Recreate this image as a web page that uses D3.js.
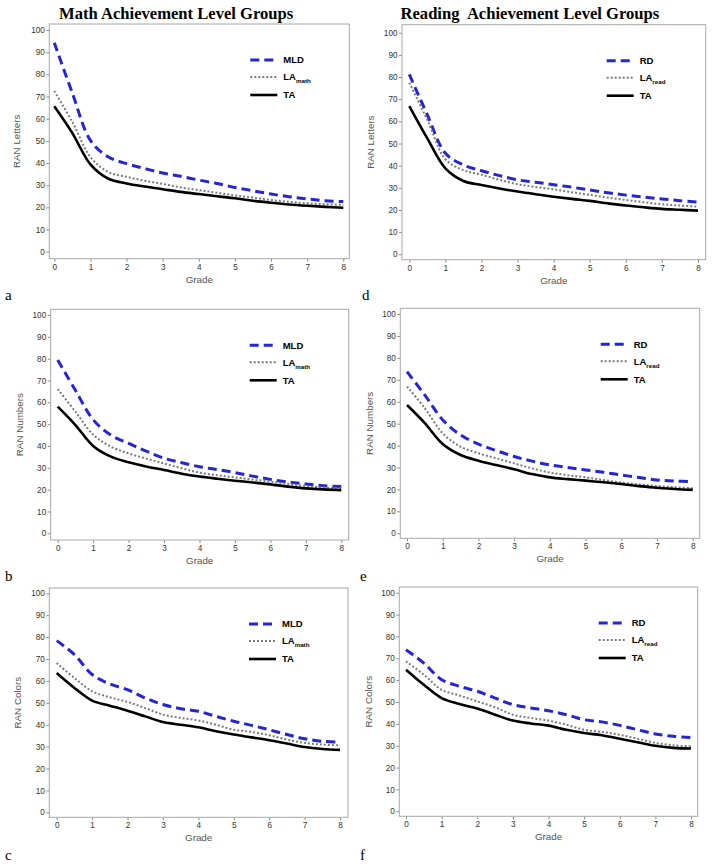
<!DOCTYPE html>
<html><head><meta charset="utf-8">
<script src="https://cdn.jsdelivr.net/npm/d3@7"></script>
<style>body{margin:0;background:#fff} svg{display:block} .t{white-space:pre}</style>
</head><body>
<svg id="c" width="714" height="868"></svg>
<script>
// ---------- DATA ----------
const grades = [0,0.5,1,1.5,2,2.5,3,3.5,4,4.5,5,5.5,6,6.5,7,7.5,8];
const xTicks = [0,1,2,3,4,5,6,7,8];
const yTicks = [0,10,20,30,40,50,60,70,80,90,100];
const columnTitles = ["Math Achievement Level Groups", "Reading  Achievement Level Groups"];
const yLabels = ["RAN Letters", "RAN Numbers", "RAN Colors"];
const panelLetters = ["a","b","c","d","e","f"];
const mathGroups = ["MLD", "LA", "TA"];
const readGroups = ["RD", "LA", "TA"];
const mathSub = "math";
const readSub = "read";

// Math – RAN Letters (a)
const mathLettersMLD = [94.3,71.5,50.2,42.7,39.7,37.5,35.5,34.0,32.3,30.8,29.0,27.5,26.0,24.8,23.8,23.0,22.6];
const mathLettersLA  = [72.5,58.5,42.7,35.9,33.8,32.0,30.6,29.0,27.8,26.6,25.4,24.4,23.3,22.5,21.8,21.4,21.1];
const mathLettersTA  = [65.6,53.5,39.4,32.9,30.8,29.4,28.2,27.0,26.0,25.0,24.1,23.0,22.1,21.3,20.7,20.2,19.8];
// Math – RAN Numbers (b)
const mathNumbersMLD = [79.4,65.5,52.0,45.0,41.2,37.6,34.4,32.3,30.5,29.2,27.8,26.2,24.7,23.5,22.6,21.8,21.4];
const mathNumbersLA  = [66.0,55.7,45.2,39.7,36.6,34.2,32.0,29.8,27.8,26.6,25.6,24.6,23.7,22.6,21.7,21.0,20.6];
const mathNumbersTA  = [58.0,49.6,40.0,35.1,32.5,30.6,29.0,27.3,26.0,25.0,24.1,23.3,22.4,21.4,20.6,20.1,19.8];
// Math – RAN Colors (c)
const mathColorsMLD = [78.4,72.0,62.9,58.6,56.0,52.2,49.2,47.3,46.1,43.8,41.6,39.7,37.7,35.5,33.6,32.4,32.1];
const mathColorsLA  = [68.2,61.3,55.3,52.5,50.4,47.6,44.6,43.1,41.9,40.0,37.7,36.7,35.2,33.2,31.7,30.9,30.6];
const mathColorsTA  = [63.6,56.8,51.0,48.7,46.4,43.8,41.2,40.0,38.8,37.0,35.5,34.2,32.9,31.4,29.8,28.9,28.5];
// Reading – RAN Letters (d)
const readLettersRD = [81.2,62.9,45.6,40.3,37.7,35.5,33.6,32.5,31.4,30.3,29.0,27.8,26.7,25.8,25.0,24.2,23.5];
const readLettersLA = [77.4,60.6,42.9,38.0,35.9,33.6,31.6,30.4,29.3,28.0,26.8,25.6,24.5,23.5,22.6,22.0,21.5];
const readLettersTA = [66.9,52.3,38.8,33.1,31.3,29.7,28.3,27.1,26.0,25.0,24.1,23.0,22.0,21.2,20.5,20.1,19.7];
// Reading – RAN Numbers (e)
const readNumbersRD = [73.7,63.0,51.7,44.8,40.7,37.7,35.0,32.9,31.2,30.0,28.9,27.8,26.6,25.4,24.3,23.8,23.6];
const readNumbersLA = [66.9,57.0,45.6,39.5,36.5,34.2,31.9,29.6,27.7,26.5,25.5,24.3,23.1,22.3,21.6,21.0,20.5];
const readNumbersTA = [58.5,50.2,40.7,35.7,33.1,31.1,29.2,27.0,25.5,24.7,24.0,23.3,22.5,21.5,20.8,20.2,19.8];
// Reading – RAN Colors (f)
const readColorsRD = [73.9,67.8,60.2,57.2,54.9,51.8,48.8,47.3,46.0,44.2,41.9,40.9,39.3,37.3,35.4,34.3,33.8];
const readColorsLA = [68.6,62.5,55.6,53.0,50.3,47.6,44.2,42.7,41.5,39.6,37.3,36.3,35.0,33.2,31.3,30.2,29.7];
const readColorsTA = [64.8,57.9,51.8,49.1,47.0,44.2,41.5,40.2,39.2,37.3,35.8,34.8,33.2,31.6,30.0,29.0,28.7];

// ---------- LAYOUT ----------
const layouts = [
  {L:49.3,T:24,R:349.3,B:258.7,y100:30,y0:251.7,x0:54.3,x8:343.3, ylx:17, lab:[5,300]},
  {L:50.7,T:309.3,R:348.7,B:540,y100:315,y0:533.3,x0:57.7,x8:341.3, ylx:20, lab:[5,581]},
  {L:49.3,T:588,R:348,B:817.3,y100:593.3,y0:812.3,x0:56.7,x8:340, ylx:18, lab:[5,860]},
  {L:402,T:24.7,R:705.7,B:259.7,y100:32.7,y0:254.3,x0:409.3,x8:698, ylx:371, lab:[362,300]},
  {L:400.3,T:308.3,R:699.7,B:538.3,y100:314,y0:533.3,x0:407,x8:692.7, ylx:370, lab:[360,581]},
  {L:399.3,T:587,R:697.7,B:816.3,y100:592.7,y0:811.3,x0:406,x8:691, ylx:369, lab:[360,860]}
];
const panels = [
  {series:[mathLettersMLD,mathLettersLA,mathLettersTA], names:mathGroups, sub:mathSub, ylab:yLabels[0]},
  {series:[mathNumbersMLD,mathNumbersLA,mathNumbersTA], names:mathGroups, sub:mathSub, ylab:yLabels[1]},
  {series:[mathColorsMLD,mathColorsLA,mathColorsTA], names:mathGroups, sub:mathSub, ylab:yLabels[2]},
  {series:[readLettersRD,readLettersLA,readLettersTA], names:readGroups, sub:readSub, ylab:yLabels[0]},
  {series:[readNumbersRD,readNumbersLA,readNumbersTA], names:readGroups, sub:readSub, ylab:yLabels[1]},
  {series:[readColorsRD,readColorsLA,readColorsTA], names:readGroups, sub:readSub, ylab:yLabels[2]}
];
const styles = [
  {stroke:"#2424d8", width:3, dash:"9,5"},
  {stroke:"#7a7a7a", width:2, dash:"2,2"},
  {stroke:"#000000", width:2.6, dash:null}
];
const SANS = "Liberation Sans, Arial, sans-serif";
const SERIF = "Liberation Serif, Times New Roman, serif";

const svg = d3.select("#c");

// column titles
svg.append("text").attr("class","t").attr("x",59).attr("y",18.5)
  .attr("font-family",SERIF).attr("font-weight","bold").attr("font-size",16.6)
  .text(columnTitles[0]);
svg.append("text").attr("class","t").attr("x",400.5).attr("y",18.5)
  .attr("font-family",SERIF).attr("font-weight","bold").attr("font-size",16.6)
  .text(columnTitles[1]);

panels.forEach((p,i)=>{
  const lo = layouts[i];
  const g = svg.append("g");
  const x = d3.scaleLinear().domain([0,8]).range([lo.x0,lo.x8]);
  const y = d3.scaleLinear().domain([0,100]).range([lo.y0,lo.y100]);

  // y axis
  const ya = g.append("g").attr("transform",`translate(${lo.L},0)`)
    .call(d3.axisLeft(y).tickValues(yTicks).tickSize(3).tickPadding(1.5));
  // x axis
  const xa = g.append("g").attr("transform",`translate(0,${lo.B})`)
    .call(d3.axisBottom(x).tickValues(xTicks).tickSize(3).tickPadding(2));
  [ya,xa].forEach(a=>{
    a.select(".domain").remove();
    a.selectAll("line").attr("stroke","#8c8c8c");
    a.selectAll("text").attr("font-family",SANS).attr("font-size",8.2).attr("fill","#333");
  });

  // frame
  g.append("rect").attr("x",lo.L).attr("y",lo.T)
    .attr("width",lo.R-lo.L).attr("height",lo.B-lo.T)
    .attr("fill","none").attr("stroke","#a8a8a8").attr("stroke-width",1);

  // clip
  const cid = "clip"+i;
  svg.append("clipPath").attr("id",cid).append("rect")
    .attr("x",lo.L).attr("y",lo.T).attr("width",lo.R-lo.L).attr("height",lo.B-lo.T);

  const line = d3.line().x((d,j)=>x(grades[j])).y(d=>y(d)).curve(d3.curveCatmullRom.alpha(0.5));
  p.series.forEach((s,k)=>{
    const st = styles[k];
    g.append("path").attr("d",line(s)).attr("clip-path",`url(#${cid})`)
      .attr("fill","none").attr("stroke",st.stroke).attr("stroke-width",st.width)
      .attr("stroke-dasharray",st.dash).attr("stroke-linejoin","round");
  });

  // legend
  const rows = [36,53,71];
  p.names.forEach((n,k)=>{
    const st = styles[k];
    const yy = lo.T + rows[k];
    g.append("line").attr("x1",lo.R-99).attr("x2",lo.R-72).attr("y1",yy).attr("y2",yy)
      .attr("stroke",st.stroke).attr("stroke-width",st.width).attr("stroke-dasharray",st.dash);
    const t = g.append("text").attr("x",lo.R-66).attr("y",yy).attr("dy","0.36em")
      .attr("font-family",SANS).attr("font-weight","bold").attr("font-size",9.5).attr("fill","#000");
    t.append("tspan").text(n);
    if(k===1){
      t.append("tspan").attr("dy",3).attr("font-size",6.2).text(p.sub);
    }
  });

  // axis titles
  g.append("text").attr("transform",`translate(${lo.ylx},${(lo.T+lo.B)/2}) rotate(-90)`)
    .attr("text-anchor","middle").attr("dy","0.35em")
    .attr("font-family",SANS).attr("font-size",9.8).attr("fill","#555").text(p.ylab);
  g.append("text").attr("x",(lo.L+lo.R)/2).attr("y",lo.B+24)
    .attr("text-anchor","middle")
    .attr("font-family",SANS).attr("font-size",9.8).attr("fill","#555").text("Grade");

  // panel letter
  svg.append("text").attr("x",lo.lab[0]).attr("y",lo.lab[1])
    .attr("font-family",SERIF).attr("font-size",15).attr("fill","#000").text(panelLetters[i]);
});
</script>
</body></html>
